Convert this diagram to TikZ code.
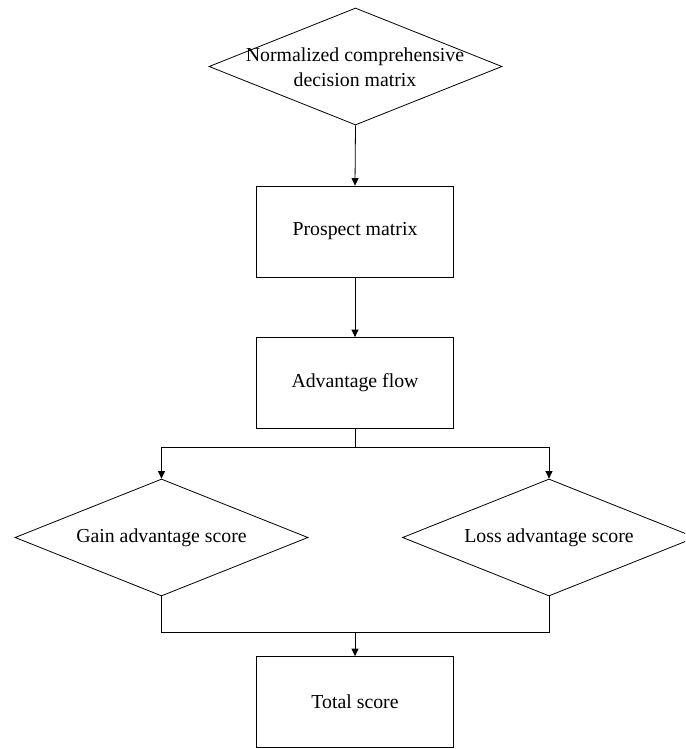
\documentclass[tikz,border=0pt]{standalone}
\usepackage{fontspec}
\setmainfont{Liberation Serif}
\usetikzlibrary{shapes.geometric,arrows.meta}
\begin{document}
\begin{tikzpicture}[x=1pt,y=-1pt,
  every node/.style={font=\fontsize{19.8}{25}\selectfont},
  boxnode/.style={draw,line width=0.8pt,minimum width=197pt,minimum height=91pt,inner sep=0pt},
  dianode/.style={draw,line width=0.8pt,diamond,minimum width=293pt,minimum height=117pt,inner sep=0pt},
  txtnode/.style={align=center,inner sep=0pt},
  conn/.style={line width=0.8pt},
  arr/.style={conn,-{Triangle[width=7pt,length=7.5pt]}}]
\clip (0,0) rectangle (685,749);
\fill[white] (0,0) rectangle (685,749);
\node[dianode] (d1) at (355.5,66.5) {};
\node[txtnode] (t1) at (355,67.5) {Normalized comprehensive\\decision matrix};
\node[boxnode] (b1) at (355,231.5) {Prospect matrix};
\node[boxnode] (b2) at (355,383) {Advantage flow};
\node[dianode] (d2) at (161.5,537.5) {};
\node[txtnode] (t2) at (161.5,537.5) {Gain advantage score};
\node[dianode] (d3) at (549,537.5) {};
\node[txtnode] (t3) at (549,537.5) {Loss advantage score};
\node[boxnode] (b3) at (355,702) {Total score};
\coordinate (j1) at (355,447.5);
\coordinate (j2) at (355,632);
\draw[arr] (d1.south) -- (b1.north);
\draw[arr] (b1.south) -- (b2.north);
\draw[conn] (b2.south) -- (j1);
\draw[arr] (j1) -| (d2.north);
\draw[arr] (j1) -| (d3.north);
\draw[conn] (d2.south) |- (j2);
\draw[conn] (d3.south) |- (j2);
\draw[arr] (j2) -- (b3.north);
\end{tikzpicture}
\end{document}
